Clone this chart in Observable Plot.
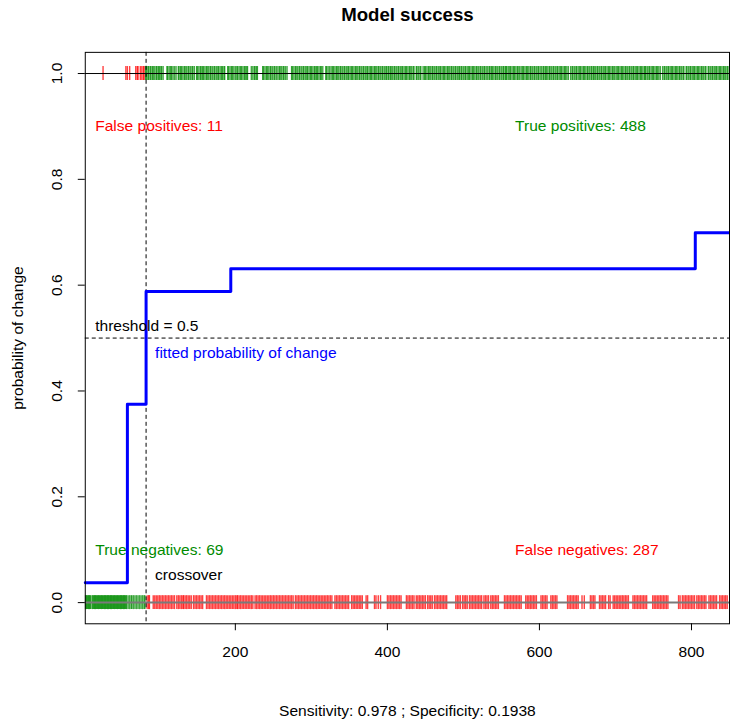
<!DOCTYPE html>
<html>
<head>
<meta charset="utf-8">
<script src="https://cdn.jsdelivr.net/npm/d3@7"></script>
<script src="https://cdn.jsdelivr.net/npm/@observablehq/plot@0.6"></script>
<style>
  html, body { margin: 0; padding: 0; background: #fff; }
  #wrap { width: 730px; height: 723px; overflow: hidden; }
</style>
</head>
<body>
<div id="wrap"></div>
<script>
// ---- data ----
const xTicks = [200, 400, 600, 800];
const yTicks = [0, 0.2, 0.4, 0.6, 0.8, 1.0];
const xDomain = [2.6, 850];
const yDomain = [-0.04, 1.04];

const threshold = 0.5;
const crossover = 82.6;

// fitted probability (step function)
const stepX = [2.6, 58, 82.6, 194, 805, 850];
const stepY = [0.0377, 0.375, 0.588, 0.631, 0.699, 0.699];

// confusion counts as printed
const countLabels = ["False positives", "True positives", "True negatives", "False negatives"];
const counts = [11, 488, 69, 287];

// observed outcome = 1
const falsePos = [26, 56, 58, 61, 69, 71, 72, 75, 77, 79, 80];
const truePos = [82,83,85,86,88,89,91,92,94,96,97,99,100,102,103,105,
110,111,113,115,116,118,120,122,
125,126,128,129,131,133,134,136,138,139,141,143,144,146,
149,150,152,154,155,157,158,160,162,163,165,167,168,170,172,173,175,177,178,180,182,183,185,186,
190,191,193,195,196,198,
200,202,203,205,207,208,210,212,213,215,216,
221,223,225,226,228,229,
236,237,239,241,242,244,246,247,249,251,252,254,
256,258,259,261,263,264,266,268,
274,275,277,279,280,282,284,285,287,289,290,292,294,295,297,299,300,302,304,
305,307,308,310,312,313,315,
319,320,322,324,326,
328,329,331,333,334,336,338,339,341,343,344,346,348,349,351,353,354,356,358,359,361,363,364,366,368,369,371,373,374,376,378,379,381,383,384,386,388,389,391,393,394,396,398,399,401,402,
404,405,407,409,410,412,414,415,417,419,420,422,424,425,427,429,
430,432,434,435,
438,439,441,443,444,
447,449,450,452,454,455,457,459,460,462,464,465,467,469,470,472,474,475,477,479,480,482,484,485,487,489,490,492,494,495,497,
498,500,502,503,505,507,508,510,512,513,515,517,518,520,522,523,525,527,528,530,532,534,
535,537,538,540,542,543,545,547,548,550,552,553,555,556,
557,559,561,562,564,566,567,569,571,572,574,
576,578,579,581,583,584,586,588,589,591,593,594,596,598,599,601,603,
605,606,608,
609,611,613,614,616,618,619,621,623,624,626,628,629,631,633,634,636,638,
641,643,644,646,648,649,651,653,654,656,658,659,661,663,664,666,668,669,
671,672,674,676,677,679,681,682,684,
686,687,689,691,692,694,696,697,699,
701,703,704,706,708,709,711,713,714,716,718,719,721,723,724,726,728,729,731,733,734,736,738,739,
740,742,744,745,747,749,750,752,754,755,
757,759,
762,764,765,767,769,770,772,774,775,777,779,780,782,784,785,787,789,790,
793,794,796,798,799,801,803,804,806,808,809,811,813,814,816,818,819,
822,823,825,827,828,830,832,833,835,837,838,840,842,843,845,847,848];

// observed outcome = 0
const trueNeg = [3,4,5,6,7,8,9,10,12,13,14,15,16,17,18,19,20,21,22,23,24,25,26,27,28,29,30,31,32,33,34,35,36,37,38,39,40,41,42,43,44,45,46,47,48,49,50,51,52,53,54,55,56,57,
59,61,63,64,66,68,70,72,74,76,78,80,81];
const falseNeg = [84,86,87,92,94,96,98,100,102,104,106,108,110,112,114,116,118,120,123,125,127,129,131,132,134,136,138,140,142,145,147,149,151,153,155,157,
162,164,166,168,170,172,174,176,178,180,182,184,186,188,190,192,194,196,198,200,202,203,
205,207,209,211,213,215,217,219,221,223,226,228,230,232,234,236,238,240,
242,244,246,248,250,252,254,256,258,260,262,264,266,268,270,272,274,276,
279,281,283,285,287,289,291,293,295,297,299,301,303,305,307,309,311,
313,315,317,319,321,323,325,327,331,333,335,337,339,341,343,345,347,349,
353,355,357,359,361,363,365,367,372,374,383,385,388,391,
400,402,404,406,408,410,412,414,416,418,425,427,429,431,433,435,
438,440,442,444,446,448,450,453,455,457,459,462,464,466,468,470,472,474,476,478,
490,492,494,496,499,501,503,505,508,510,512,514,516,518,520,522,524,527,529,531,533,
536,538,540,542,544,546,554,556,558,560,562,564,566,568,570,572,574,576,
582,584,586,588,590,592,594,596,602,604,606,608,610,615,617,619,621,623,
637,639,641,643,645,647,649,651,656,659,667,669,671,673,679,681,683,685,687,691,693,
697,699,701,703,705,707,709,711,713,715,717,723,725,727,729,731,733,735,737,739,741,
749,751,753,755,757,759,761,763,765,767,769,783,785,
788,790,792,794,796,798,800,802,804,807,809,811,813,815,817,819,
823,825,827,829,831,833,837,839,841,843,845,847];

const rugs = [
  {values: falsePos, outcome: 1, color: "#ff0000"},
  {values: truePos,  outcome: 1, color: "#008b00"},
  {values: trueNeg,  outcome: 0, color: "#008b00"},
  {values: falseNeg, outcome: 0, color: "#ff0000"}
];

const annotations = [
  {text: countLabels[0] + ": " + counts[0], x: 15.7, y: 0.9, color: "#ff0000"},
  {text: countLabels[1] + ": " + counts[1], x: 568, y: 0.9, color: "#008b00"},
  {text: countLabels[2] + ": " + counts[2], x: 15.7, y: 0.1, color: "#008b00"},
  {text: countLabels[3] + ": " + counts[3], x: 568, y: 0.1, color: "#ff0000"},
  {text: "threshold = 0.5", x: 15.7, y: 0.522, color: "#000000"},
  {text: "fitted probability of change", x: 94.4, y: 0.472, color: "#0000ff"},
  {text: "crossover", x: 94.4, y: 0.052, color: "#000000"}
];

const title = "Model success";
const yLabel = "probability of change";
const caption = "Sensitivity: 0.978 ; Specificity: 0.1938";

// ---- chart ----
const FS = 15.6;
const rugMarks = rugs.map(r =>
  Plot.ruleX(r.values, {
    x: d => d, y1: () => r.outcome, y2: () => r.outcome,
    insetTop: -7, insetBottom: -7,
    stroke: r.color, strokeOpacity: 0.75, strokeWidth: 1.4
  })
);

const stepData = stepX.map((x, i) => ({x, y: stepY[i]}));

const chart = Plot.plot({
  width: 732, height: 723,
  marginLeft: 85, marginRight: 1, marginTop: 52, marginBottom: 98,
  x: {domain: xDomain},
  y: {domain: yDomain},
  color: {type: "identity"},
  style: {fontFamily: "'Liberation Sans', Arial, Helvetica, sans-serif", fontSize: FS + "px", background: "#fff", color: "#000"},
  marks: [
    ...rugMarks,
    Plot.ruleY([1], {stroke: "#000", strokeWidth: 1}),
    Plot.ruleY([0], {stroke: "#7a7a7a", strokeWidth: 2}),
    Plot.ruleY([threshold], {stroke: "#000", strokeWidth: 1, strokeDasharray: "4,3"}),
    Plot.ruleX([crossover], {stroke: "#000", strokeWidth: 1, strokeDasharray: "4,3"}),
    Plot.line(stepData, {x: "x", y: "y", curve: "step-after", stroke: "#0000ff", strokeWidth: 3}),
    Plot.text(annotations, {x: "x", y: "y", text: "text", fill: "color", textAnchor: "start", lineAnchor: "middle", fontSize: FS}),
    Plot.frame({stroke: "#000"}),
    Plot.axisX({ticks: xTicks, tickSize: 7, tickPadding: 15, label: null, fontSize: FS}),
    Plot.axisY({ticks: yTicks, tickSize: 7, tickFormat: () => "", label: null}),
    Plot.text(yTicks, {y: d => d, frameAnchor: "left", dx: -28, rotate: -90, text: d => d3.format(".1f")(d), fontSize: FS, textAnchor: "middle", lineAnchor: "middle"}),
    Plot.text([yLabel], {frameAnchor: "left", dx: -67, rotate: -90, text: d => d, fontSize: FS, textAnchor: "middle", lineAnchor: "middle"}),
    Plot.text([title], {frameAnchor: "top", dy: -37, text: d => d, fontSize: 18.7, fontWeight: "bold", textAnchor: "middle", lineAnchor: "middle"}),
    Plot.text([caption], {frameAnchor: "bottom", dy: 87, text: d => d, fontSize: FS, textAnchor: "middle", lineAnchor: "middle"})
  ]
});
document.getElementById("wrap").appendChild(chart);
</script>
</body>
</html>
